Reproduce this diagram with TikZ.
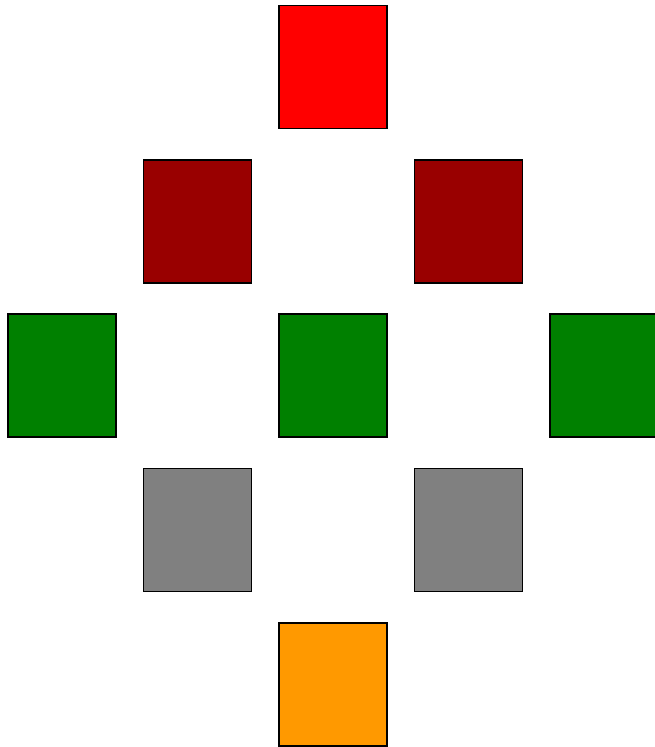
\documentclass[tikz,border=0pt]{standalone}
\definecolor{cred}{RGB}{255,0,0}
\definecolor{cdark}{RGB}{153,0,0}
\definecolor{cgreen}{RGB}{0,128,0}
\definecolor{cgray}{RGB}{128,128,128}
\definecolor{corange}{RGB}{255,153,0}
\begin{document}
\begin{tikzpicture}[x=1pt,y=-1pt,
  sq/.style={draw=black,line width=1.6pt,minimum width=108pt,minimum height=123pt,inner sep=0pt,outer sep=0pt}]
\useasboundingbox (0,0) rectangle (655,747);
\node[sq,fill=cred]    (r)  at (332.8,67) {};
\node[sq,fill=cdark]   (d1) at (197.4,221.3) {};
\node[sq,fill=cdark]   (d2) at (468.4,221.3) {};
\node[sq,fill=cgreen]  (g1) at (62,375.6) {};
\node[sq,fill=cgreen]  (g2) at (332.8,375.6) {};
\node[sq,fill=cgreen]  (g3) at (604,375.6) {};
\node[sq,fill=cgray]   (y1) at (197.4,529.9) {};
\node[sq,fill=cgray]   (y2) at (468.4,529.9) {};
\node[sq,fill=corange] (o)  at (332.8,684.2) {};
\end{tikzpicture}
\end{document}
